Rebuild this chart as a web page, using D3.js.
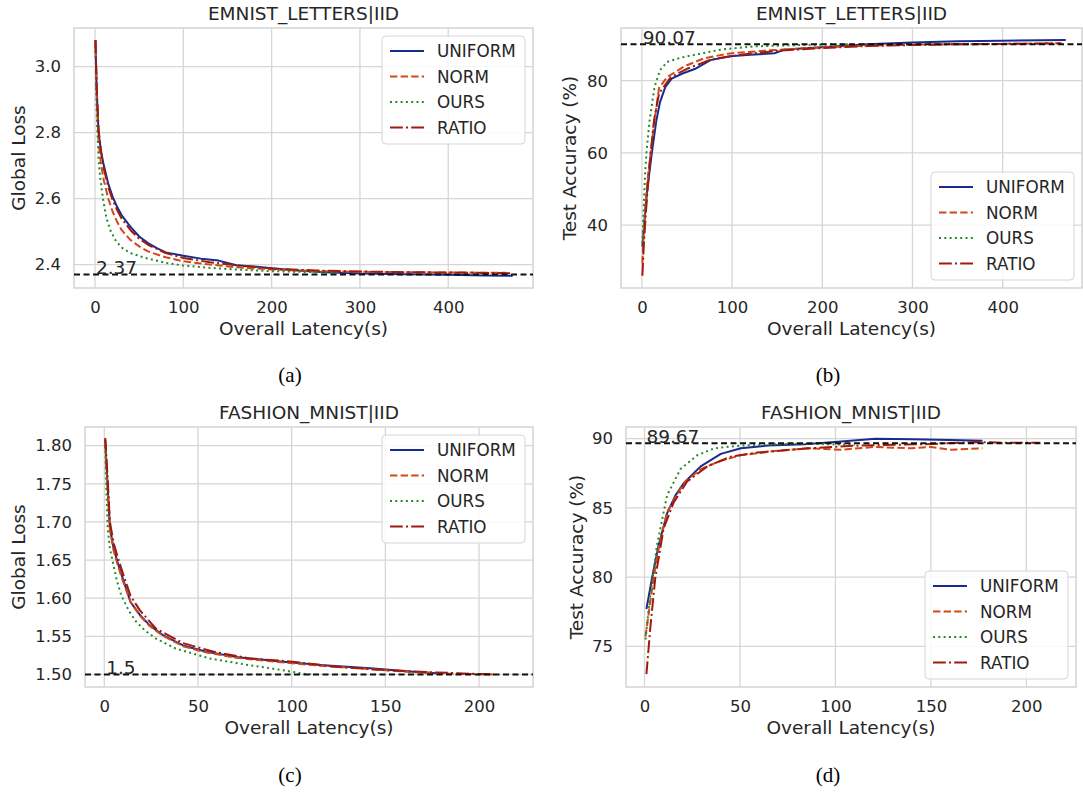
<!DOCTYPE html>
<html>
<head>
<meta charset="utf-8">
<script src="https://cdn.jsdelivr.net/npm/d3@7"></script>
<style>
  body { margin: 0; background: #fff; }
  svg text { font-family: "DejaVu Sans", sans-serif; fill: #262626; }
  .caption { font-family: "Liberation Serif", serif; }
</style>
</head>
<body>
<div id="chart"></div>
<script>
// series names + styles
var seriesNames = ["UNIFORM", "NORM", "OURS", "RATIO"];
var seriesColors = ["#1a2b8e", "#d04a18", "#268a26", "#a01a0e"];
var seriesDash = [null, "7.4,3.2", "2,3.3", "12.8,3.2,2,3.2"];

// tick values
var xTicksEmnist = [0, 100, 200, 300, 400];
var xTicksFashion = [0, 50, 100, 150, 200];
var yTicksEmnistLoss = [2.4, 2.6, 2.8, 3.0];
var yTicksEmnistAcc = [40, 60, 80];
var yTicksFashionLoss = [1.50, 1.55, 1.60, 1.65, 1.70, 1.75, 1.80];
var yTicksFashionAcc = [75, 80, 85, 90];

// (a) EMNIST letters, global loss  [latency, loss]
var emnistLossUniform = [[0.5,3.08],[2,2.92],[4,2.80],[7,2.74],[10,2.70],[15,2.645],[20,2.605],[25,2.575],[30,2.55],[40,2.515],[50,2.485],[60,2.465],[70,2.45],[80,2.437],[100,2.427],[120,2.418],[140,2.412],[150,2.405],[160,2.398],[180,2.394],[200,2.389],[230,2.382],[260,2.377],[300,2.373],[350,2.371],[400,2.369],[440,2.367],[473,2.366]];
var emnistLossNorm = [[0.5,3.08],[2,2.90],[4,2.77],[7,2.70],[10,2.655],[15,2.60],[20,2.56],[25,2.53],[30,2.505],[40,2.475],[50,2.455],[60,2.44],[80,2.422],[100,2.41],[130,2.40],[160,2.392],[200,2.385],[250,2.38],[300,2.378],[350,2.377],[400,2.376],[465,2.375]];
var emnistLossOurs = [[0.5,3.08],[2,2.85],[4,2.72],[6,2.66],[9,2.60],[13,2.54],[18,2.50],[24,2.47],[31,2.45],[40,2.435],[57,2.42],[80,2.405],[100,2.397],[130,2.39],[160,2.385],[200,2.38],[250,2.377],[270,2.376]];
var emnistLossRatio = [[0.5,3.08],[2,2.93],[4,2.81],[7,2.74],[10,2.69],[15,2.635],[20,2.595],[25,2.565],[30,2.54],[40,2.505],[50,2.478],[60,2.46],[80,2.435],[100,2.42],[130,2.407],[160,2.398],[200,2.388],[250,2.382],[300,2.379],[350,2.377],[400,2.376],[470,2.374]];

// (b) EMNIST letters, test accuracy
var emnistAccUniform = [[0.5,34],[2.5,40],[6,50],[11,60],[16,69],[20,74],[26,78.3],[33,80.6],[45,82],[60,83.4],[76,85.7],[98,86.8],[120,87.2],[147,87.6],[158,88.6],[180,89],[200,89.3],[250,90.1],[300,90.6],[350,90.9],[400,91.1],[470,91.3]];
var emnistAccNorm = [[0.5,29.5],[2,38],[4,46],[6,52],[9.7,60],[14,69],[19,78],[28,81],[47,84],[69,86.2],[95,87.5],[140,88.4],[196,89.2],[250,89.7],[300,90],[350,90.1],[400,90.2],[465,90.4]];
var emnistAccOurs = [[0.5,35],[2,45],[3.5,54],[5,60],[8.5,69],[14,78.3],[20,82.9],[28,85.2],[43,86.4],[65,87.5],[87,88.6],[124,89.5],[160,89.8],[200,90.0],[230,90.1]];
var emnistAccRatio = [[0.5,26],[2,34],[4,42],[6,49],[9.7,60],[13.4,69],[19,76.5],[32,81],[51,83.4],[77,85.9],[106,87.1],[151,88.3],[196,89],[250,89.6],[300,89.9],[350,90.1],[400,90.2],[465,90.3]];

// (c) Fashion-MNIST, global loss
var fashionLossUniform = [[0.5,1.808],[1.5,1.76],[3,1.692],[5,1.665],[7,1.648],[10,1.625],[14,1.595],[19,1.578],[24,1.565],[31,1.552],[42,1.538],[54,1.53],[70,1.523],[94,1.517],[117,1.512],[142,1.508],[165,1.5035],[181,1.501]];
var fashionLossNorm = [[0.5,1.805],[1.5,1.755],[3,1.69],[5,1.662],[7,1.645],[10,1.622],[14,1.595],[19,1.577],[24,1.564],[31,1.551],[42,1.537],[54,1.529],[70,1.522],[94,1.516],[117,1.511],[142,1.507],[165,1.503],[185,1.501],[208,1.5]];
var fashionLossOurs = [[0.5,1.80],[1,1.75],[1.8,1.692],[3,1.665],[4.5,1.648],[6.5,1.625],[9,1.604],[13,1.584],[17,1.569],[22,1.557],[27.6,1.547],[38,1.534],[56,1.521],[77.5,1.512],[95,1.5057],[106,1.501],[111,1.5]];
var fashionLossRatio = [[0.5,1.81],[1.5,1.77],[3,1.70],[5,1.672],[7,1.655],[10,1.632],[14,1.603],[19,1.584],[27.6,1.56],[42,1.541],[58,1.53],[77.5,1.521],[99,1.517],[124,1.51],[150,1.5057],[177,1.5026],[195,1.501],[208,1.5]];

// (d) Fashion-MNIST, test accuracy
var fashionAccUniform = [[1,77.7],[3.9,79.9],[7.4,82.3],[11.8,84.6],[16.2,85.9],[20.6,86.8],[29.4,88],[40,88.9],[50.5,89.3],[64.6,89.5],[84,89.6],[103,89.8],[121,90],[140,89.95],[160,89.9],[177,89.85]];
var fashionAccNorm = [[0.5,75.7],[4.7,79.9],[7.7,82.3],[11.8,84.7],[20.6,86.8],[29.4,87.8],[40,88.4],[50.5,88.8],[68,89.1],[85.7,89.3],[103,89.2],[120,89.4],[140,89.3],[150,89.4],[160,89.2],[177,89.3]];
var fashionAccOurs = [[0.5,75.5],[3,78.7],[6.5,82.3],[11.8,85.9],[18.8,87.8],[27.6,88.8],[36.4,89.3],[50.5,89.5],[78.6,89.64],[95,89.6],[110,89.55]];
var fashionAccRatio = [[1,73],[3,76.3],[5.6,79.9],[10,83.5],[15.3,85.4],[22.3,86.9],[32.9,88],[45.2,88.7],[59.3,89],[85.7,89.3],[112,89.5],[147,89.6],[174,89.75],[190,89.7],[207,89.7]];

// reference lines (best value) drawn as dashed black lines
var refValues = [2.37, 90.07, 1.5, 89.67];
var refLabels = ["2.37", "90.07", "1.5", "89.67"];

var W = 1083, H = 794;
var svg = d3.select("#chart").append("svg")
  .attr("width", W)
  .attr("height", H);

var panels = [
  {title: "EMNIST_LETTERS|IID", ylabel: "Global Loss", ylabelX: 19,
   box: {l: 74, r: 533, t: 28, b: 288}, xDom: [-23.8, 496], yDom: [2.329, 3.117],
   xTicks: xTicksEmnist, yTicks: yTicksEmnistLoss, yFmt: d3.format(".1f"),
   data: [emnistLossUniform, emnistLossNorm, emnistLossOurs, emnistLossRatio],
   legend: "tr", caption: "(a)", capX: 290, capY: 382},
  {title: "EMNIST_LETTERS|IID", ylabel: "Test Accuracy (%)", ylabelX: 570,
   box: {l: 621, r: 1082, t: 28, b: 288}, xDom: [-23.2, 488], yDom: [22.6, 94.6],
   xTicks: xTicksEmnist, yTicks: yTicksEmnistAcc, yFmt: d3.format("d"),
   data: [emnistAccUniform, emnistAccNorm, emnistAccOurs, emnistAccRatio],
   legend: "br", caption: "(b)", capX: 828, capY: 382},
  {title: "FASHION_MNIST|IID", ylabel: "Global Loss", ylabelX: 19,
   box: {l: 85, r: 533, t: 427, b: 687}, xDom: [-10.3, 228.8], yDom: [1.4835, 1.8245],
   xTicks: xTicksFashion, yTicks: yTicksFashionLoss, yFmt: d3.format(".2f"),
   data: [fashionLossUniform, fashionLossNorm, fashionLossOurs, fashionLossRatio],
   legend: "tr", caption: "(c)", capX: 290, capY: 782},
  {title: "FASHION_MNIST|IID", ylabel: "Test Accuracy (%)", ylabelX: 577,
   box: {l: 626, r: 1076, t: 427, b: 687}, xDom: [-9.7, 226], yDom: [72.07, 90.84],
   xTicks: xTicksFashion, yTicks: yTicksFashionAcc, yFmt: d3.format("d"),
   data: [fashionAccUniform, fashionAccNorm, fashionAccOurs, fashionAccRatio],
   legend: "br", caption: "(d)", capX: 828, capY: 782}
];

panels.forEach(function(p, pi) {
  var b = p.box;
  var x = d3.scaleLinear().domain(p.xDom).range([b.l, b.r]);
  var y = d3.scaleLinear().domain(p.yDom).range([b.b, b.t]);
  var g = svg.append("g");

  var clipId = "clip" + pi;
  g.append("clipPath").attr("id", clipId)
    .append("rect")
    .attr("x", b.l).attr("y", b.t)
    .attr("width", b.r - b.l).attr("height", b.b - b.t);

  // grid
  g.selectAll(".xgrid").data(p.xTicks).enter()
    .append("line")
    .attr("x1", d => x(d)).attr("x2", d => x(d))
    .attr("y1", b.t).attr("y2", b.b)
    .style("stroke", "#d6d6d6").style("stroke-width", 1.3);
  g.selectAll(".ygrid").data(p.yTicks).enter()
    .append("line")
    .attr("x1", b.l).attr("x2", b.r)
    .attr("y1", d => y(d)).attr("y2", d => y(d))
    .style("stroke", "#d6d6d6").style("stroke-width", 1.3);

  // axes (no tick marks, seaborn whitegrid)
  var xAxis = g.append("g")
    .attr("transform", "translate(0," + b.b + ")")
    .call(d3.axisBottom(x).tickValues(p.xTicks).tickSize(0).tickPadding(13).tickFormat(d3.format("d")));
  var yAxis = g.append("g")
    .attr("transform", "translate(" + b.l + ",0)")
    .call(d3.axisLeft(y).tickValues(p.yTicks).tickSize(0).tickPadding(13).tickFormat(p.yFmt));
  [xAxis, yAxis].forEach(function(a) {
    a.select(".domain").remove();
    a.selectAll("text").style("font-size", "16.5px").style("fill", "#262626")
      .attr("font-family", null);
  });
  xAxis.selectAll("text").attr("dy", "0.72em");

  // frame
  g.append("rect")
    .attr("x", b.l).attr("y", b.t)
    .attr("width", b.r - b.l).attr("height", b.b - b.t)
    .style("fill", "none").style("stroke", "#d6d6d6").style("stroke-width", 1.6);

  // lines
  var line = d3.line().x(d => x(d[0])).y(d => y(d[1]));
  var lines = g.append("g").attr("clip-path", "url(#" + clipId + ")");
  p.data.forEach(function(series, i) {
    lines.append("path")
      .datum(series)
      .attr("d", line)
      .style("fill", "none")
      .style("stroke", seriesColors[i])
      .style("stroke-width", 2)
      .style("stroke-linejoin", "round")
      .style("stroke-dasharray", seriesDash[i]);
  });

  // best value line + label
  lines.append("line")
    .attr("x1", b.l).attr("x2", b.r)
    .attr("y1", y(refValues[pi])).attr("y2", y(refValues[pi]))
    .style("stroke", "#111").style("stroke-width", 2)
    .style("stroke-dasharray", "6,3.5");
  g.append("text")
    .attr("x", x(1)).attr("y", y(refValues[pi]))
    .style("font-size", "18.5px")
    .text(refLabels[pi]);

  // title / labels
  g.append("text")
    .attr("x", (b.l + b.r) / 2).attr("y", b.t - 8)
    .attr("text-anchor", "middle")
    .style("font-size", "18.5px")
    .text(p.title);
  g.append("text")
    .attr("x", (b.l + b.r) / 2).attr("y", b.b + 47)
    .attr("text-anchor", "middle")
    .style("font-size", "18.5px")
    .text("Overall Latency(s)");
  g.append("text")
    .attr("transform", "translate(" + p.ylabelX + "," + ((b.t + b.b) / 2) + ") rotate(-90)")
    .attr("text-anchor", "middle")
    .attr("dy", "0.35em")
    .style("font-size", "18.5px")
    .text(p.ylabel);

  // legend
  var lw = 143, lh = 108;
  var lx = b.r - 8 - lw;
  var ly = p.legend == "tr" ? b.t + 8 : b.b - 8 - lh;
  var leg = g.append("g").attr("transform", "translate(" + lx + "," + ly + ")");
  leg.append("rect")
    .attr("width", lw).attr("height", lh)
    .attr("rx", 4)
    .style("fill", "#fff").style("fill-opacity", 0.85)
    .style("stroke", "#d6d6d6").style("stroke-width", 1);
  seriesNames.forEach(function(name, i) {
    var ry = 15 + i * 25.5;
    leg.append("line")
      .attr("x1", 8).attr("x2", 42)
      .attr("y1", ry).attr("y2", ry)
      .style("stroke", seriesColors[i])
      .style("stroke-width", 2)
      .style("stroke-dasharray", seriesDash[i]);
    leg.append("text")
      .attr("x", 55).attr("y", ry)
      .attr("dy", "0.36em")
      .style("font-size", "16.8px")
      .text(name);
  });

  // subfigure caption
  svg.append("text")
    .attr("class", "caption")
    .attr("x", p.capX).attr("y", p.capY)
    .attr("text-anchor", "middle")
    .style("font-size", "21px")
    .style("fill", "#000")
    .text(p.caption);
});
</script>
</body>
</html>
